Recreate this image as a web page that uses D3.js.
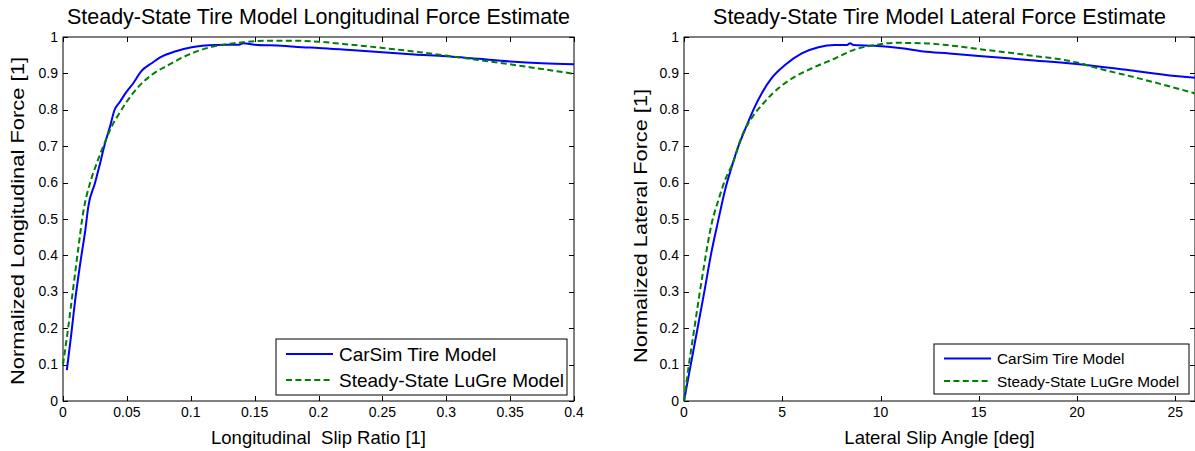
<!DOCTYPE html>
<html>
<head>
<meta charset="utf-8">
<script src="https://cdn.jsdelivr.net/npm/d3@7"></script>
<style>
  body { margin: 0; background: #fff; }
  svg { display: block; font-family: "Liberation Sans", Arial, sans-serif; }
  text { white-space: pre; }
</style>
</head>
<body>
<svg id="chart" width="1195" height="451"></svg>
<script>
// ---- data ----
var seriesNames = ["CarSim Tire Model", "Steady-State LuGre Model"];

// longitudinal: slip ratio [1] vs normalized force
var longCarSim = [
  [0.003, 0.085], [0.006, 0.17], [0.01, 0.29], [0.014, 0.39], [0.0175, 0.47], [0.0198, 0.534],
  [0.025, 0.598], [0.0284, 0.644], [0.0329, 0.708], [0.0368, 0.754], [0.0402, 0.798],
  [0.0446, 0.822], [0.0498, 0.85], [0.055, 0.873], [0.061, 0.905], [0.0694, 0.928],
  [0.0772, 0.946], [0.0877, 0.96], [0.1007, 0.972], [0.119, 0.978], [0.138, 0.979],
  [0.141, 0.983], [0.15, 0.979], [0.171, 0.976], [0.187, 0.972], [0.2, 0.97],
  [0.225, 0.964], [0.25, 0.958], [0.275, 0.952], [0.3, 0.947], [0.325, 0.94],
  [0.35, 0.933], [0.375, 0.928], [0.4, 0.925]
];
var longLuGre = [
  [0, 0.1], [0.004, 0.2], [0.008, 0.31], [0.012, 0.42], [0.0159, 0.52], [0.0211, 0.598],
  [0.0264, 0.653], [0.0329, 0.712], [0.0381, 0.754], [0.0433, 0.786], [0.0498, 0.822],
  [0.059, 0.863], [0.0694, 0.896], [0.0825, 0.923], [0.098, 0.951], [0.1164, 0.973],
  [0.137, 0.984], [0.163, 0.99], [0.18, 0.99], [0.2, 0.987], [0.225, 0.979],
  [0.25, 0.97], [0.275, 0.96], [0.3, 0.949], [0.325, 0.937], [0.35, 0.925],
  [0.375, 0.912], [0.4, 0.899]
];

// lateral: slip angle [deg] vs normalized force
var latCarSim = [
  [0, 0], [0.5, 0.145], [1.0, 0.29], [1.4, 0.41], [1.71, 0.488], [2.09, 0.58],
  [2.43, 0.644], [2.76, 0.699], [3.1, 0.745], [3.53, 0.8], [3.95, 0.845],
  [4.46, 0.887], [5.14, 0.923], [5.99, 0.955], [6.84, 0.972], [7.68, 0.978],
  [8.3, 0.978], [8.45, 0.983], [8.6, 0.978], [9.72, 0.976], [11.08, 0.969], [12.18, 0.96],
  [13.5, 0.955], [15, 0.948], [17.5, 0.937], [20, 0.926], [22.5, 0.91], [25, 0.893], [26, 0.888]
];
var latLuGre = [
  [0, 0], [0.25, 0.1], [0.5, 0.19], [0.75, 0.28], [1.0, 0.365], [1.41, 0.488],
  [1.75, 0.552], [2.09, 0.607], [2.51, 0.657], [2.93, 0.726], [3.44, 0.777],
  [4.04, 0.818], [4.8, 0.859], [5.65, 0.891], [6.67, 0.918], [7.68, 0.941],
  [8.7, 0.966], [9.72, 0.978], [10.74, 0.984], [12.09, 0.983], [13.5, 0.977],
  [15, 0.967], [17.5, 0.95], [20, 0.93], [21.2, 0.912], [22.5, 0.895], [25, 0.86], [26, 0.845]
];

var longTicksX = [0, 0.05, 0.1, 0.15, 0.2, 0.25, 0.3, 0.35, 0.4];
var latTicksX = [0, 5, 10, 15, 20, 25];
var ticksY = [0, 0.1, 0.2, 0.3, 0.4, 0.5, 0.6, 0.7, 0.8, 0.9, 1];

var svg = d3.select("#chart");

function drawPanel(opt) {
  var x = d3.scaleLinear().domain(opt.xDomain).range([opt.left, opt.left + 511]);
  var y = d3.scaleLinear().domain([0, 1]).range([401, 37]);
  var g = svg.append("g");

  // mirrored inside ticks (matlab style)
  var tl = 5;
  g.selectAll(".xt").data(opt.xTicks).enter().append("path")
    .attr("d", function(d) {
      var px = Math.round(x(d)) + 0.5;
      return "M" + px + ",401V" + (401 - tl) + "M" + px + ",37V" + (37 + tl);
    })
    .attr("stroke", "#000").attr("stroke-width", 1);
  g.selectAll(".yt").data(ticksY).enter().append("path")
    .attr("d", function(d) {
      var py = Math.round(y(d)) + 0.5;
      return "M" + x.range()[0] + "," + py + "h" + tl + "M" + x.range()[1] + "," + py + "h" + (-tl);
    })
    .attr("stroke", "#000").attr("stroke-width", 1);

  g.append("rect")
    .attr("x", x.range()[0]).attr("y", 37)
    .attr("width", 511).attr("height", 364)
    .attr("fill", "none").attr("stroke", "#000").attr("stroke-width", 1);

  g.selectAll(".xl").data(opt.xTicks).enter().append("text")
    .attr("x", function(d) { return x(d); })
    .attr("y", 417)
    .attr("text-anchor", "middle")
    .attr("font-size", 14)
    .text(function(d) { return d3.format("")(d); });
  g.selectAll(".yl").data(ticksY).enter().append("text")
    .attr("x", x.range()[0] - 5)
    .attr("y", function(d) { return y(d) + 4.5; })
    .attr("text-anchor", "end")
    .attr("font-size", 14)
    .text(function(d) { return d3.format("")(d); });

  g.append("text")
    .attr("x", opt.left + 255.5).attr("y", 24)
    .attr("text-anchor", "middle").attr("font-size", 21.5)
    .text(opt.title);
  g.append("text")
    .attr("x", opt.left + 255.5).attr("y", 444)
    .attr("text-anchor", "middle").attr("font-size", 18.5)
    .text(opt.xLabel);
  g.append("text")
    .attr("transform", "translate(" + opt.yLabelX + "," + opt.yLabelC + ") rotate(-90)")
    .attr("text-anchor", "middle").attr("font-size", 19)
    .attr("textLength", opt.yLabelLen).attr("lengthAdjust", "spacingAndGlyphs")
    .text(opt.yLabel);

  var line = d3.line().x(function(d) { return x(d[0]); }).y(function(d) { return y(d[1]); })
    .curve(d3.curveMonotoneX);

  g.append("path").datum(opt.blue).attr("d", line)
    .attr("fill", "none").attr("stroke", "#0000ff").attr("stroke-width", 2);
  g.append("path").datum(opt.green).attr("d", line)
    .attr("fill", "none").attr("stroke", "#008000").attr("stroke-width", 2)
    .attr("stroke-dasharray", "6,3.4");

  // legend
  var L = opt.legend;
  var lg = g.append("g");
  lg.append("rect").attr("x", L.x).attr("y", L.y).attr("width", L.w).attr("height", L.h)
    .attr("fill", "#fff").attr("stroke", "#000").attr("stroke-width", 1);
  seriesNames.forEach(function(name, i) {
    var ly = L.y + L.r0 + i * L.dy;
    lg.append("line").attr("x1", L.x + 10).attr("x2", L.x + 10 + L.lw)
      .attr("y1", ly).attr("y2", ly)
      .attr("stroke", i === 0 ? "#0000ff" : "#008000").attr("stroke-width", 2)
      .attr("stroke-dasharray", i === 0 ? null : "6,3.4");
    lg.append("text").attr("x", L.x + 63).attr("y", ly + L.fs * 0.36)
      .attr("font-size", L.fs).text(name);
  });
}

drawPanel({
  left: 63, xDomain: [0, 0.4], xTicks: longTicksX,
  title: "Steady-State Tire Model Longitudinal Force Estimate",
  xLabel: "Longitudinal  Slip Ratio [1]",
  yLabel: "Normalized Longitudinal Force [1]", yLabelX: 24, yLabelC: 221, yLabelLen: 328,
  blue: longCarSim, green: longLuGre,
  legend: { x: 276, y: 339, w: 291, h: 56, r0: 15, dy: 26, lw: 47, fs: 19 }
});

drawPanel({
  left: 684, xDomain: [0, 26], xTicks: latTicksX,
  title: "Steady-State Tire Model Lateral Force Estimate",
  xLabel: "Lateral Slip Angle [deg]",
  yLabel: "Normalized Lateral Force [1]", yLabelX: 647, yLabelC: 226, yLabelLen: 274,
  blue: latCarSim, green: latLuGre,
  legend: { x: 934, y: 344, w: 255, h: 50, r0: 14.5, dy: 22.5, lw: 47, fs: 15.4 }
});
</script>
</body>
</html>
